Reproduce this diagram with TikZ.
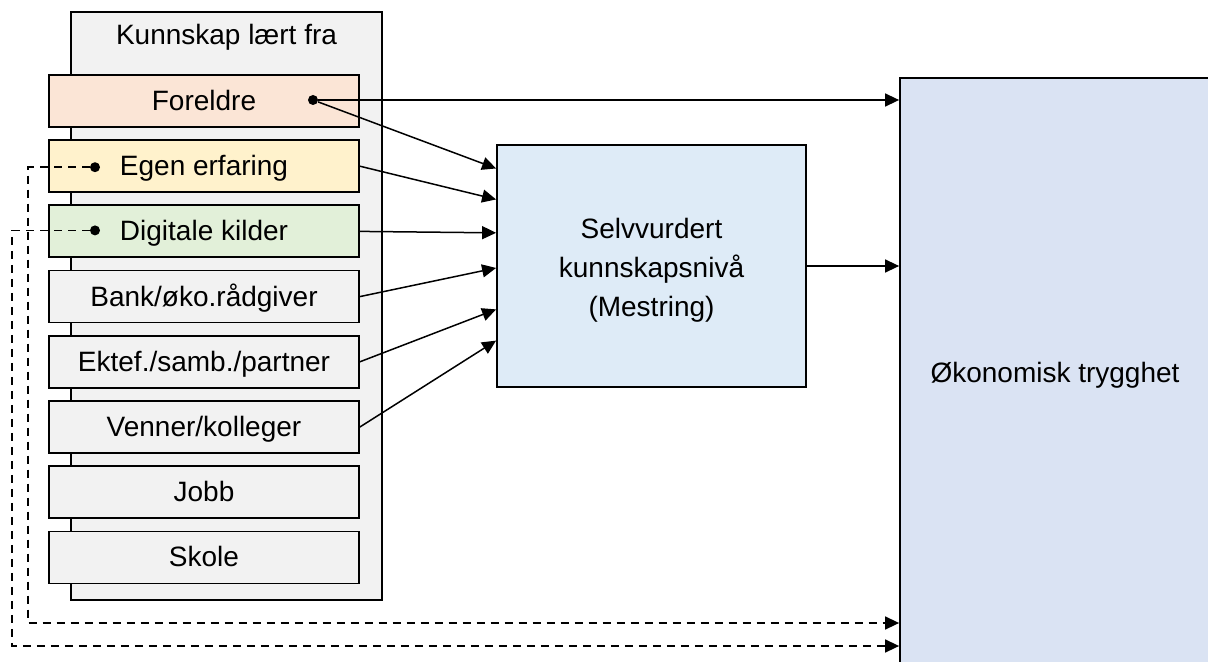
\documentclass[tikz,border=0pt]{standalone}
\usepackage{fontspec}
\setmainfont{Liberation Sans}
\usetikzlibrary{positioning,calc,arrows.meta}

\definecolor{panelgray}{HTML}{F2F2F2}
\definecolor{peach}{HTML}{FBE5D6}
\definecolor{sand}{HTML}{FFF2CC}
\definecolor{mint}{HTML}{E2F0D9}
\definecolor{skyblue}{HTML}{DEEBF7}
\definecolor{paleblue}{HTML}{DAE3F3}

\begin{document}
\begin{tikzpicture}[>={Triangle[length=7pt,width=6.5pt]}, node distance=5.7pt,
    source/.style={rectangle, draw, line width=0.9pt, fill=panelgray, minimum width=155pt, minimum height=26pt, text height=9.5pt, text depth=0pt},
    block/.style={rectangle, draw, line width=0.9pt, align=center},
    dot/.style={circle, fill, inner sep=0pt, minimum size=5pt}]
  \tikzstyle{every node}=[font=\fontsize{14}{19.5}\selectfont]

  \useasboundingbox (0,0) rectangle (604pt,-331pt);
  \clip (0,0) rectangle (604pt,-331pt);

  % grey panel with the sources
  \node[block, fill=panelgray, minimum width=155.5pt, minimum height=294pt] (panel) at (113.25pt,-153pt) {};
  \node[anchor=base] (title) at ($(panel.north)+(0,-16.5pt)$) {Kunnskap lært fra};

  \node[source, fill=peach] (foreldre) at (102pt,-50.5pt) {Foreldre};
  \node[source, fill=sand, below=of foreldre] (egen) {Egen erfaring};
  \node[source, fill=mint, below=of egen] (digital) {Digitale kilder};
  \node[source, below=of digital] (bank) {Bank/øko.rådgiver};
  \node[source, below=of bank] (partner) {Ektef./samb./partner};
  \node[source, below=of partner] (venner) {Venner/kolleger};
  \node[source, below=of venner] (jobb) {Jobb};
  \node[source, below=of jobb] (skole) {Skole};

  \node[block, fill=skyblue, minimum width=154.5pt, minimum height=121pt, text height=54pt, text depth=4pt] (selv) at (325.75pt,-133pt) {Selvvurdert\\kunnskapsnivå\\(Mestring)};
  \node[block, fill=paleblue, minimum width=155pt, minimum height=297pt] (trygg) at (527.5pt,-187.5pt) {Økonomisk trygghet};

  \node[dot] (fdot) at ($(foreldre.center)+(54.5pt,0.5pt)$) {};
  \node[dot] (edot) at ($(egen.center)+(-54.5pt,-0.5pt)$) {};
  \node[dot] (ddot) at ($(digital.center)+(-54.5pt,0.5pt)$) {};

  % entry points on the left side of selv
  \coordinate (in1) at ($(selv.north west)!0.10!(selv.south west)$);
  \coordinate (in2) at ($(selv.north west)!0.227!(selv.south west)$);
  \coordinate (in3) at ($(selv.north west)!0.364!(selv.south west)$);
  \coordinate (in4) at ($(selv.north west)!0.508!(selv.south west)$);
  \coordinate (in5) at ($(selv.north west)!0.678!(selv.south west)$);
  \coordinate (in6) at ($(selv.north west)!0.806!(selv.south west)$);

  % corners of the dashed lines
  \coordinate (bend1) at (14pt,-311.5pt);
  \coordinate (bend2) at (6pt,-323pt);

  \path[->, line width=0.75pt]
    (fdot) edge (fdot -| trygg.west)
           edge (in1)
    (egen.east) edge (in2)
    (digital.east) edge (in3)
    (bank.east) edge (in4)
    (partner.east) edge (in5)
    (venner.east) edge (in6)
    (selv.east) edge (selv.east -| trygg.west);

  \draw[->, line width=0.75pt, dash pattern=on 4pt off 3pt] (edot) -| (bend1) -- (bend1 -| trygg.west);
  \draw[->, line width=0.75pt, dash pattern=on 4pt off 3pt] (ddot) -| (bend2) -- (bend2 -| trygg.west);

\end{tikzpicture}
\end{document}
